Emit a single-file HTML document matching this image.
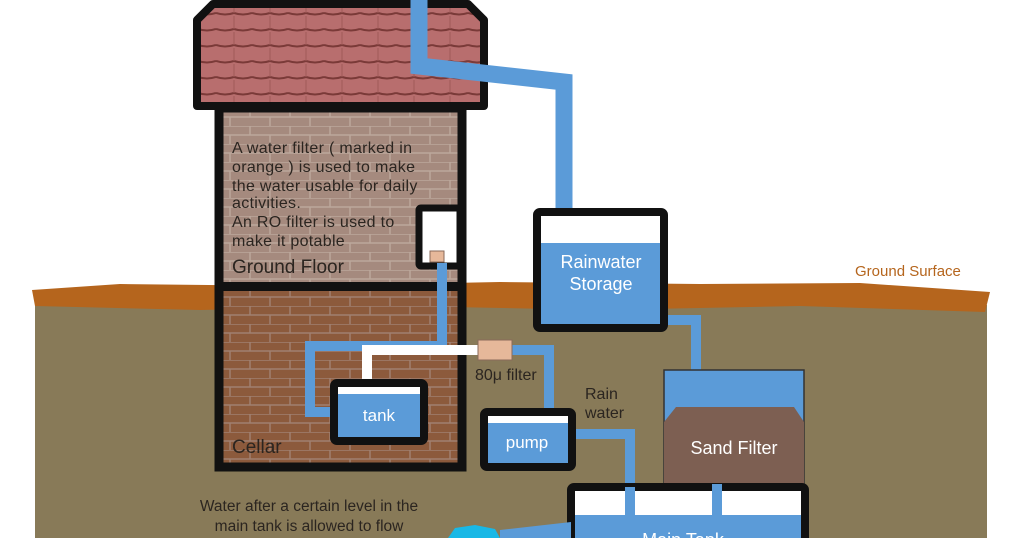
<!DOCTYPE html>
<html><head><meta charset="utf-8"><style>
html,body{margin:0;padding:0;background:#fff;width:1024px;height:538px;overflow:hidden}
svg{display:block}
text{font-family:"Liberation Sans",sans-serif}
</style></head><body>
<svg width="1024" height="538" viewBox="0 0 1024 538" xmlns="http://www.w3.org/2000/svg">
<defs>
<pattern id="tiles" width="36" height="16" patternUnits="userSpaceOnUse">
<rect width="36" height="16" fill="#b86e6e"/>
<path d="M0 13 Q9 16 18 13 Q27 16 36 13" stroke="#7a3a38" stroke-width="2" fill="none"/>
<line x1="18" y1="0" x2="18" y2="13" stroke="#a05a58" stroke-width="1"/>
</pattern>
<pattern id="brick1" width="40" height="18" patternUnits="userSpaceOnUse">
<rect width="40" height="18" fill="#a58a7e"/>
<path d="M0 0H40M0 9H40M10 0V9M30 9V18" stroke="#bca89c" stroke-width="1.5"/>
</pattern>
<pattern id="brick2" width="40" height="18" patternUnits="userSpaceOnUse">
<rect width="40" height="18" fill="#8c5a3c"/>
<path d="M0 0H40M0 9H40M10 0V9M30 9V18" stroke="#a08070" stroke-width="1.5"/>
</pattern>
</defs>
<rect x="35" y="305" width="952" height="233" fill="#887a58"/>
<path d="M32 290 L120 284 L300 286 L500 282 L700 284 L860 283 L990 292 L985 312 L800 306 L600 310 L400 306 L200 310 L35 306 Z" fill="#b5651d"/>
<text x="855" y="276" font-size="15" fill="#b5651d">Ground Surface</text>
<path d="M197 20 L213 4 L468 4 L484 20 L484 106 L197 106 Z" fill="url(#tiles)" stroke="#111" stroke-width="8" stroke-linejoin="round"/>
<path d="M419 0 V66 L564 82 V212" stroke="#5b9bd8" stroke-width="17" fill="none"/>
<rect x="220" y="110" width="240" height="176" fill="url(#brick1)"/>
<rect x="220" y="290" width="240" height="175" fill="url(#brick2)"/>
<rect x="219" y="108" width="243" height="359" fill="none" stroke="#111" stroke-width="9"/>
<rect x="219" y="282" width="243" height="9" fill="#111"/>
<g font-size="16" fill="#2b2520" letter-spacing="0.3">
<text x="232" y="153">A water filter ( marked in</text>
<text x="232" y="172">orange ) is used to make</text>
<text x="232" y="191">the water usable for daily</text>
<text x="232" y="208">activities.</text>
<text x="232" y="227">An RO filter is used to</text>
<text x="232" y="246">make it potable</text>
</g>
<text x="232" y="273" font-size="19" fill="#2b2520">Ground Floor</text>
<text x="232" y="453" font-size="19" fill="#2b2520">Cellar</text>
<rect x="419" y="208" width="41" height="58" fill="#fff" stroke="#111" stroke-width="7" rx="2"/>
<rect x="430" y="251" width="14" height="11" fill="#e6b89a" stroke="#8a6a5a" stroke-width="1"/>
<path d="M442 263 V346 H310 V412 H335" stroke="#5b9bd8" stroke-width="10" fill="none"/>
<path d="M367 382 V350 H480" stroke="#fff" stroke-width="10" fill="none"/>
<path d="M510 350 H549 V420" stroke="#5b9bd8" stroke-width="10" fill="none"/>
<rect x="478" y="340" width="34" height="20" fill="#e6b89a" stroke="#8a6a5a" stroke-width="1"/>
<text x="475" y="380" font-size="16" fill="#2b2520">80μ filter</text>
<rect x="334" y="383" width="90" height="58" fill="#5b9bd8" stroke="#111" stroke-width="8" rx="3"/>
<rect x="338" y="387" width="82" height="7" fill="#fff"/>
<text x="379" y="421" font-size="17" fill="#fff" text-anchor="middle">tank</text>
<rect x="484" y="412" width="88" height="55" fill="#5b9bd8" stroke="#111" stroke-width="8" rx="3"/>
<rect x="488" y="416" width="80" height="7" fill="#fff"/>
<text x="527" y="448" font-size="17" fill="#fff" text-anchor="middle">pump</text>
<text x="585" y="399" font-size="16" fill="#2b2520">Rain</text>
<text x="585" y="418" font-size="16" fill="#2b2520">water</text>
<path d="M576 434 H630 V538" stroke="#5b9bd8" stroke-width="10" fill="none"/>
<path d="M667 320 H696 V372" stroke="#5b9bd8" stroke-width="10" fill="none"/>
<rect x="537" y="212" width="127" height="116" fill="#5b9bd8" stroke="#111" stroke-width="8" rx="3"/>
<rect x="541" y="216" width="119" height="27" fill="#fff"/>
<text x="601" y="268" font-size="18" fill="#fff" text-anchor="middle">Rainwater</text>
<text x="601" y="290" font-size="18" fill="#fff" text-anchor="middle">Storage</text>
<rect x="664" y="370" width="140" height="116" fill="#5b9bd8" stroke="#333" stroke-width="1.5"/>
<path d="M664 422 L676 407 L794 407 L804 422 V486 H664 Z" fill="#7d5f52"/>
<text x="734" y="454" font-size="18" fill="#fff" text-anchor="middle">Sand Filter</text>
<rect x="571" y="487" width="234" height="60" fill="#5b9bd8" stroke="#111" stroke-width="8" rx="3"/>
<rect x="575" y="491" width="226" height="24" fill="#fff"/>
<path d="M630 487 V538 M717 484 V515" stroke="#5b9bd8" stroke-width="10"/>
<text x="683" y="546" font-size="18" fill="#fff" text-anchor="middle">Main Tank</text>
<path d="M448 538 L455 528 L475 525 L495 529 L500 538 Z" fill="#19b8e6"/>
<path d="M500 530 L571 522 L571 538 L500 538 Z" fill="#5b9bd8"/>
<text x="309" y="511" font-size="15.5" fill="#2b2520" text-anchor="middle">Water after a certain level in the</text>
<text x="309" y="531" font-size="15.5" fill="#2b2520" text-anchor="middle">main tank is allowed to flow</text>
</svg>
</body></html>
